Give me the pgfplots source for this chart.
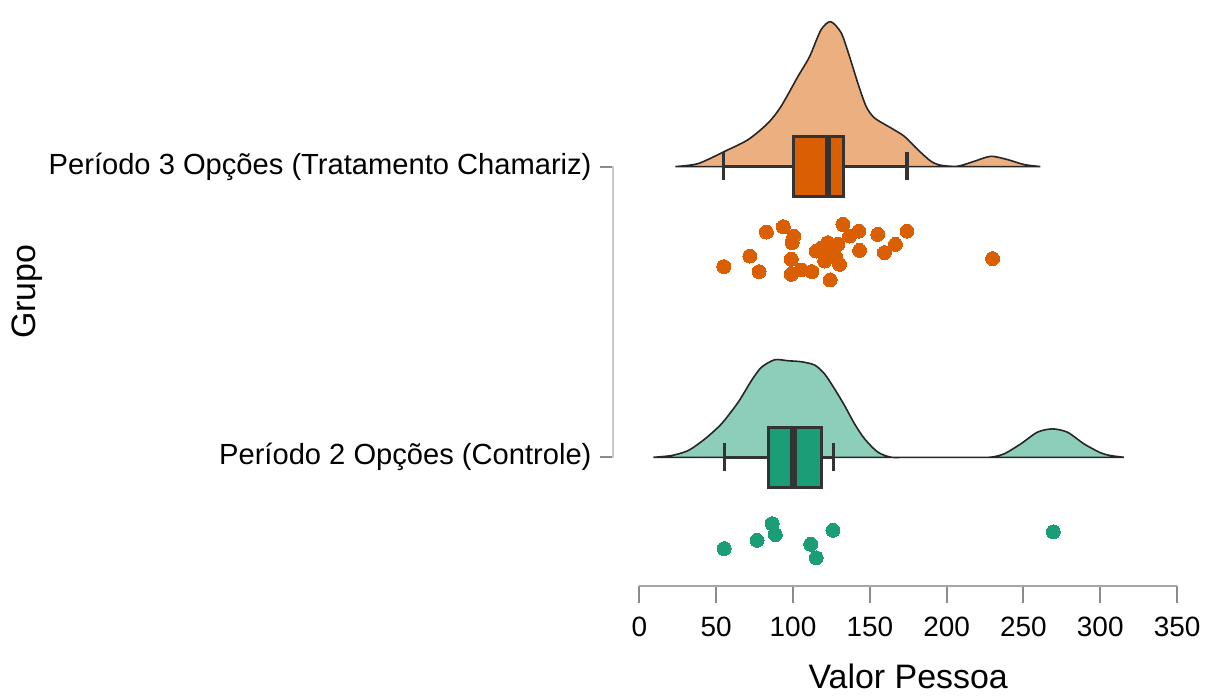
\documentclass[border=0pt]{standalone}
\usepackage{fontspec}
\setmainfont{Liberation Sans}
\usepackage{pgfplots}
\pgfplotsset{compat=1.18}
\definecolor{orangeD}{HTML}{D95F02}
\definecolor{greenD}{HTML}{1B9E77}
\definecolor{orangeL}{HTML}{ECAF80}
\definecolor{greenL}{HTML}{8DCEBB}
\definecolor{boxline}{HTML}{333333}
\definecolor{axgray}{HTML}{A6A6A6}
\definecolor{tickgray}{HTML}{8C8C8C}
\begin{document}
\begin{tikzpicture}
\begin{axis}[
  scale only axis, width=283pt, height=287.5pt,
  xmin=-17.5, xmax=350, ymin=105, ymax=680,
  clip=false,
  separate axis lines,
  axis x line*=bottom, axis y line*=left,
  axis line style={draw=none},
  xtick={0,50,...,350},
  ytick={234.5,526},
  yticklabels={Período 2 Opções (Controle), Período 3 Opções (Tratamento Chamariz)},
  tick align=outside,
  major tick length=8.5pt,
  x tick style={draw=tickgray, line width=1pt},
  y tick style={draw=tickgray, line width=1pt, /pgfplots/major tick length=6.5pt},
  /pgf/number format/assume math mode=true,
  xticklabel style={font=\fontsize{14}{16}\selectfont, text=black, yshift=-3.5pt},
  yticklabel style={font=\fontsize{14.6}{17}\selectfont, text=black, xshift=1.5pt},
  xlabel={Valor Pessoa},
  ylabel={Grupo},
  xlabel style={font=\fontsize{17}{20}\selectfont, at={(axis description cs:0.5238,-0.1774)}, anchor=base},
  ylabel style={font=\fontsize{17}{20}\selectfont, at={(axis description cs:-1.0365,0.5139)}, anchor=center, rotate=0},
]
\path (axis cs:-416.23,0) rectangle (axis cs:367.53,693);
% axis lines
\draw[axgray, line width=1pt] (axis cs:0,105) -- (axis cs:350,105);
\draw[axgray!60, line width=1pt] (axis cs:-17.5,233.7) -- (axis cs:-17.5,527);

% orange density
\addplot[fill=orangeL, draw=black!85, line width=0.8pt, smooth, tension=0.45] coordinates {
(23.4,526) (38.3,529) (55.6,541.3) (70.8,553) (83.8,569.7) (92.2,586.3) (103.2,616.3)
(110.8,636.3) (118.2,663) (124.5,671.3) (131.4,660) (136.8,636.3) (142.2,609.7)
(147.6,586.3) (153.1,574.7) (163.8,564.7) (172.5,556.3) (181.2,543) (189.8,531.3)
(196.3,527.3) (207.1,526.3) (218,531.3) (228.8,536.3) (239.6,533) (250.5,528) (261,526)
} -- cycle;
% green density
\addplot[fill=greenL, draw=black!85, line width=0.8pt, smooth, tension=0.45] coordinates {
(9.1,234.5) (21.0,236.3) (31.8,241.3) (42.7,253) (53.4,268) (64.3,289.7) (72.9,311.3)
(79.4,324.7) (88.1,332.3) (96.8,331.3) (105.4,330.3) (114.1,327) (120.6,318) (127.1,303)
(133.6,286.3) (140.1,268) (146.6,253) (155.2,239.7) (163.8,234.6) (175,234.5) (217,234.5)
(228.6,234.6) (237.5,238) (248.3,248) (259.1,259.7) (268.8,263) (278.6,259.7) (289.4,248)
(300.2,239) (306.5,236.3) (315.4,234.5)
} -- cycle;

% orange box plot
\addplot[draw=boxline, line width=1.3pt] coordinates {(55,526) (174.2,526)};
\addplot[draw=boxline, line width=1.6pt] coordinates {(55,512.3) (55,540.3)};
\addplot[draw=boxline, line width=1.6pt] coordinates {(174.2,512.3) (174.2,540.3)};
\addplot[fill=orangeD, draw=boxline, line width=1.5pt] coordinates {(100,495.7) (133.1,495.7) (133.1,556.3) (100,556.3)} -- cycle;
\addplot[draw=boxline, line width=3.2pt] coordinates {(122.7,495.7) (122.7,556.3)};

% green box plot
\addplot[draw=boxline, line width=1.3pt] coordinates {(55.2,234.5) (126.4,234.5)};
\addplot[draw=boxline, line width=1.6pt] coordinates {(55.2,220.5) (55.2,248.5)};
\addplot[draw=boxline, line width=1.6pt] coordinates {(126.4,220.5) (126.4,248.5)};
\addplot[fill=greenD, draw=boxline, line width=1.5pt] coordinates {(83.8,204) (118.4,204) (118.4,264) (83.8,264)} -- cycle;
\addplot[draw=boxline, line width=3.2pt] coordinates {(100.2,204) (100.2,264)};

% orange points
\addplot[only marks, color=orangeD, mark=*, mark size=3.5pt, mark options={fill=orangeD, draw=orangeD, line width=0pt}] coordinates {
(55.0,425.7) (71.9,436.3) (77.9,420.7) (82.7,460.3) (93.7,465.7) (100.5,456.3) (99.4,449.7)
(98.9,433) (98.9,418) (105.4,422.3) (112.3,420.7) (115.1,441.3) (120.6,431.3) (122.7,449.7)
(124.7,438) (129.2,448) (130.3,428) (124.2,412.3) (132.5,468) (136.8,456.3) (142.9,461.3)
(143.3,442) (155.2,458) (159.5,439.7) (166.7,448) (174.2,461.3) (229.9,433.7)
(118.2,444) (126.6,443) (121.3,437) (127.9,435)
};
% green points
\addplot[only marks, color=greenD, mark=*, mark size=3.5pt, mark options={fill=greenD, draw=greenD, line width=0pt}] coordinates {
(55.2,143) (76.6,151.3) (86.4,168) (88.5,157) (111.5,147.3) (115.1,133.7) (126,161.3) (269.5,159.7)
};
\end{axis}
\end{tikzpicture}
\end{document}
